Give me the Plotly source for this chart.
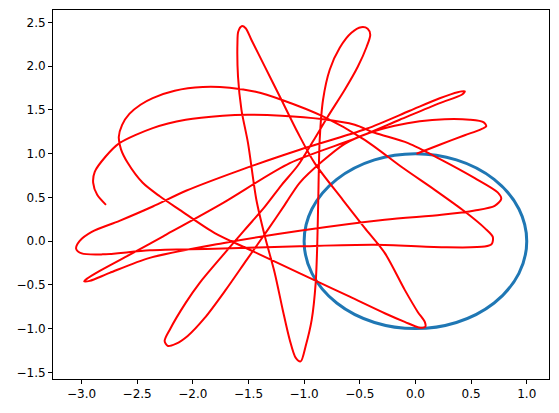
import plotly.graph_objects as go

# trayectoria (rojo), de la superficie (0, 1) hasta el final
tray_x = [0.01, 0.218, 0.443, 0.578, 0.636, 0.614, 0.488, 0.263, 0.039, -0.186,
          -0.411, -0.635, -0.842, -1.040, -1.174, -1.327, -1.516, -1.704, -1.893, -2.046,
          -2.154, -2.226, -2.253, -2.208, -2.064, -1.938, -1.758, -1.534, -1.354, -1.201,
          -1.058, -0.923, -0.788, -0.635, -0.518, -0.438, -0.406, -0.429, -0.487, -0.575,
          -0.680, -0.770, -0.830, -0.860, -0.873, -0.882, -0.896, -0.932, -0.986, -1.031,
          -1.075, -1.129, -1.192, -1.264, -1.354, -1.429, -1.504, -1.563, -1.594, -1.599,
          -1.592, -1.561, -1.525, -1.474, -1.354, -1.204, -1.055, -0.905, -0.653, -0.456,
          -0.276, -0.096, 0.021, 0.084, 0.088, 0.030, -0.096, -0.276, -0.590, -0.889,
          -1.219, -1.489, -1.803, -2.118, -2.297, -2.450, -2.585, -2.645, -2.665, -2.635,
          -2.570, -2.470, -2.360, -2.163, -1.911, -1.668, -1.435, -1.204, -0.830, -0.456,
          -0.114, 0.173, 0.443, 0.623, 0.695, 0.686, 0.623, 0.234, -0.366, -1.040,
          -1.803, -2.387, -2.810, -2.998, -3.048, -3.016, -2.908, -2.659, -2.360, -2.061,
          -1.579, -1.040, -0.440, -0.051, 0.218, 0.380, 0.443, 0.416, 0.218, -0.141,
          -0.530, -1.129, -1.731, -2.270, -2.570, -2.836, -2.953, -2.976, -2.926, -2.747,
          -2.387, -1.731, -1.040, -0.276, 0.234, 0.533, 0.712, 0.771, 0.739, 0.533,
          0.234, -0.066, -0.366, -0.545, -0.845, -1.204, -1.507, -1.731, -2.064, -2.360,
          -2.659, -2.783, -2.881, -2.895, -2.859, -2.780]
tray_y = [1.00, 1.102, 1.211, 1.273, 1.313, 1.359, 1.388, 1.394, 1.371, 1.319,
          1.239, 1.113, 0.907, 0.667, 0.415, 0.129, -0.214, -0.557, -0.878, -1.084,
          -1.175, -1.198, -1.141, -1.015, -0.706, -0.477, -0.203, 0.129, 0.392, 0.644,
          0.862, 1.136, 1.422, 1.731, 1.994, 2.223, 2.360, 2.429, 2.446, 2.383,
          2.212, 1.960, 1.617, 1.159, 0.473, -0.042, -0.477, -0.900, -1.198, -1.375,
          -1.335, -1.129, -0.786, -0.363, 0.061, 0.473, 1.121, 1.502, 1.883, 2.265,
          2.395, 2.458, 2.435, 2.303, 1.998, 1.617, 1.236, 0.892, 0.473, 0.152,
          -0.134, -0.557, -0.809, -0.923, -0.981, -0.986, -0.923, -0.824, -0.635, -0.457,
          -0.260, -0.098, 0.092, 0.358, 0.513, 0.667, 0.896, 1.050, 1.190, 1.330,
          1.455, 1.560, 1.636, 1.720, 1.762, 1.754, 1.708, 1.617, 1.426, 1.159,
          0.839, 0.587, 0.339, 0.149, 0.049, -0.031, -0.062, -0.069, -0.042, -0.059,
          -0.088, -0.105, -0.151, -0.140, -0.088, 0.003, 0.106, 0.232, 0.396, 0.576,
          0.810, 1.045, 1.285, 1.491, 1.634, 1.703, 1.714, 1.674, 1.579, 1.388,
          1.179, 0.892, 0.435, 0.053, -0.157, -0.340, -0.431, -0.460, -0.454, -0.363,
          -0.191, -0.023, 0.118, 0.244, 0.301, 0.350, 0.404, 0.484, 0.558, 0.721,
          0.930, 1.121, 1.239, 1.331, 1.396, 1.434, 1.445, 1.434, 1.388, 1.293,
          1.121, 0.968, 0.793, 0.667, 0.530, 0.415]

# círculo azul (radio 1, centrado en el origen)
centro_x, centro_y, radio = 0.0, 0.0, 1.0

x_ticks = [-3.0, -2.5, -2.0, -1.5, -1.0, -0.5, 0.0, 0.5, 1.0]
y_ticks = [-1.5, -1.0, -0.5, 0.0, 0.5, 1.0, 1.5, 2.0, 2.5]


def etiqueta(v):
    return f"{v:.1f}".replace("-", "\u2212")


fig = go.Figure()

fig.add_shape(type="circle", xref="x", yref="y",
              x0=centro_x - radio, x1=centro_x + radio,
              y0=centro_y - radio, y1=centro_y + radio,
              line=dict(color="#1f77b4", width=3), layer="below")

fig.add_trace(go.Scatter(
    x=tray_x, y=tray_y,
    mode="lines",
    line=dict(color="red", width=2, shape="spline", smoothing=0.8),
    hoverinfo="skip",
))

ejes = dict(
    showline=True, linecolor="black", linewidth=1, mirror=True,
    ticks="outside", ticklen=4, tickwidth=1, tickcolor="black",
    showgrid=False, zeroline=False, automargin=False,
    tickfont=dict(family="DejaVu Sans", size=12, color="black"),
)

# la página tiene 8 px de margen en el body: se descuentan aquí
fig.update_layout(
    width=551, height=405,
    showlegend=False,
    margin=dict(l=45, r=10, t=2, b=34),
    plot_bgcolor="white",
    paper_bgcolor="white",
    xaxis=dict(range=[-3.256, 1.2], tickvals=x_ticks,
               ticktext=[etiqueta(v) for v in x_ticks], **ejes),
    yaxis=dict(range=[-1.576, 2.643], tickvals=y_ticks,
               ticktext=[etiqueta(v) for v in y_ticks], **ejes),
)

fig.write_html("out.html")
